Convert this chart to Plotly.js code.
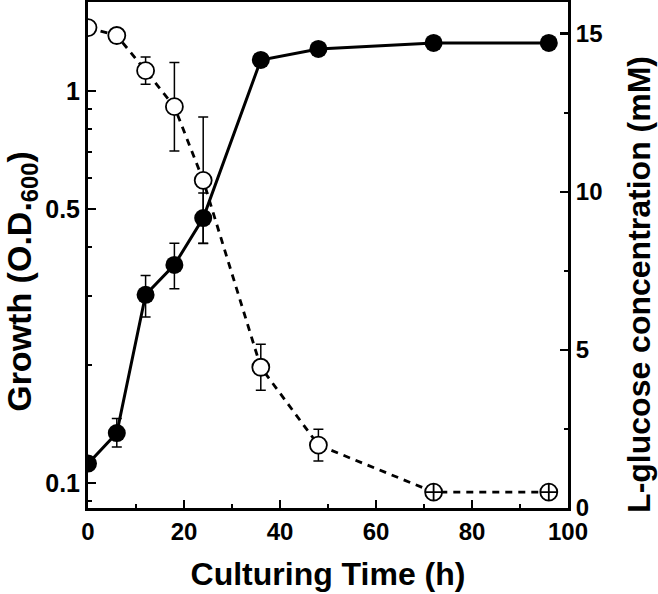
<!DOCTYPE html>
<html>
<head>
<meta charset="utf-8">
<script src="https://cdn.plot.ly/plotly-3.0.1.min.js"></script>
<style>html,body{margin:0;padding:0;background:#fff;}#chart{width:658px;height:594px;}</style>
</head>
<body>
<div id="chart"></div>
<script>
// Culturing time (h)
var time = [0, 6, 12, 18, 24, 36, 48, 72, 96];
// Growth (O.D.600), filled circles, left log axis
var growth = [0.112, 0.134, 0.302, 0.360, 0.474, 1.20, 1.28, 1.326, 1.326];
var growthErrUp = [0, 0.012, 0.036, 0.049, 0.075, 0, 0, 0, 0];
var growthErrDown = [0, 0.0105, 0.037, 0.047, 0.065, 0, 0, 0, 0];
// L-glucose concentration (mM), open circles, right axis
var glucose = [15.19, 14.94, 13.83, 12.69, 10.36, 4.45, 1.99, 0.505, 0.505];
var glucoseErr = [0.08, 0.08, 0.43, 1.4, 2.0, 0.73, 0.5, 0, 0];
var glucoseSymbols = ['circle', 'circle', 'circle', 'circle', 'circle', 'circle', 'circle', 'circle-cross', 'circle-cross'];
// tick labels
var xTicks = [0, 20, 40, 60, 80, 100];
var yTicks = [0.1, 0.5, 1];
var yTickText = ['0.1', '0.5', '1'];
var y2Ticks = [0, 5, 10, 15];

var FONT = 'Liberation Sans, Arial, Helvetica, sans-serif';

var traceGlucose = {
  x: time, y: glucose, yaxis: 'y2', type: 'scatter', mode: 'lines+markers',
  line: {color: '#000', width: 2.8, dash: '7px,6px'},
  marker: {symbol: glucoseSymbols, size: 17, color: '#fff', line: {color: '#000', width: 1.8}},
  error_y: {type: 'data', array: glucoseErr, visible: true, color: '#000', thickness: 1.5, width: 5},
  showlegend: false, hoverinfo: 'skip'
};
var traceGrowth = {
  x: time, y: growth, yaxis: 'y', type: 'scatter', mode: 'lines+markers',
  line: {color: '#000', width: 3},
  marker: {symbol: 'circle', size: 18, color: '#000'},
  error_y: {type: 'data', symmetric: false, array: growthErrUp, arrayminus: growthErrDown, visible: true, color: '#000', thickness: 1.5, width: 5},
  showlegend: false, hoverinfo: 'skip'
};

var layout = {
  width: 658, height: 594,
  margin: {l: 88, r: 90, t: 2, b: 86},
  paper_bgcolor: '#fff', plot_bgcolor: '#fff',
  font: {family: FONT, color: '#000', size: 24, weight: 'bold'},
  xaxis: {
    range: [0, 100], tickvals: xTicks, ticks: 'inside', ticklen: 8, tickwidth: 2.5, tickcolor: '#000',
    minor: {dtick: 10, ticks: 'inside', ticklen: 4, tickwidth: 2, tickcolor: '#000', showgrid: false},
    showline: true, linewidth: 3, linecolor: '#000', mirror: true, showgrid: false, zeroline: false,
    tickfont: {family: FONT, size: 24, weight: 'bold'},
    title: {text: 'Culturing Time (h)', font: {family: FONT, size: 32, weight: 'bold'}, standoff: 19}
  },
  yaxis: {
    type: 'log', range: [-1.064, 0.227], tickvals: yTicks, ticktext: yTickText,
    ticks: 'inside', ticklen: 8, tickwidth: 2.5, tickcolor: '#000',
    minor: {tickvals: [0.09, 0.2, 0.3, 0.4, 0.6, 0.7, 0.8, 0.9], ticks: 'inside', ticklen: 4, tickwidth: 2, tickcolor: '#000', showgrid: false},
    showline: true, linewidth: 3, linecolor: '#000', showgrid: false, zeroline: false,
    tickfont: {family: FONT, size: 25, weight: 'bold'}
  },
  yaxis2: {
    overlaying: 'y', side: 'right', range: [0, 16], tickvals: y2Ticks,
    ticks: 'inside', ticklen: 8, tickwidth: 2.5, tickcolor: '#000',
    minor: {tickvals: [2.5, 7.5, 12.5], ticks: 'inside', ticklen: 4, tickwidth: 2, tickcolor: '#000', showgrid: false},
    showline: true, linewidth: 3, linecolor: '#000', showgrid: false, zeroline: false,
    tickfont: {family: FONT, size: 24, weight: 'bold'}
  },
  annotations: [
    {text: 'Growth (O.D.<sub>600</sub>)', xref: 'paper', yref: 'paper', x: -0.1375, y: 0.447, textangle: -90,
     showarrow: false, xanchor: 'center', yanchor: 'middle', borderpad: 0, font: {family: FONT, size: 34, weight: 'bold'}},
    {text: 'L-glucose concentration (mM)', xref: 'paper', yref: 'paper', x: 1.148, y: 0.441, textangle: -90,
     showarrow: false, xanchor: 'center', yanchor: 'middle', font: {family: FONT, size: 32, weight: 'bold'}}
  ]
};

Plotly.newPlot('chart', [traceGlucose, traceGrowth], layout, {displayModeBar: false, staticPlot: true});
</script>
</body>
</html>
